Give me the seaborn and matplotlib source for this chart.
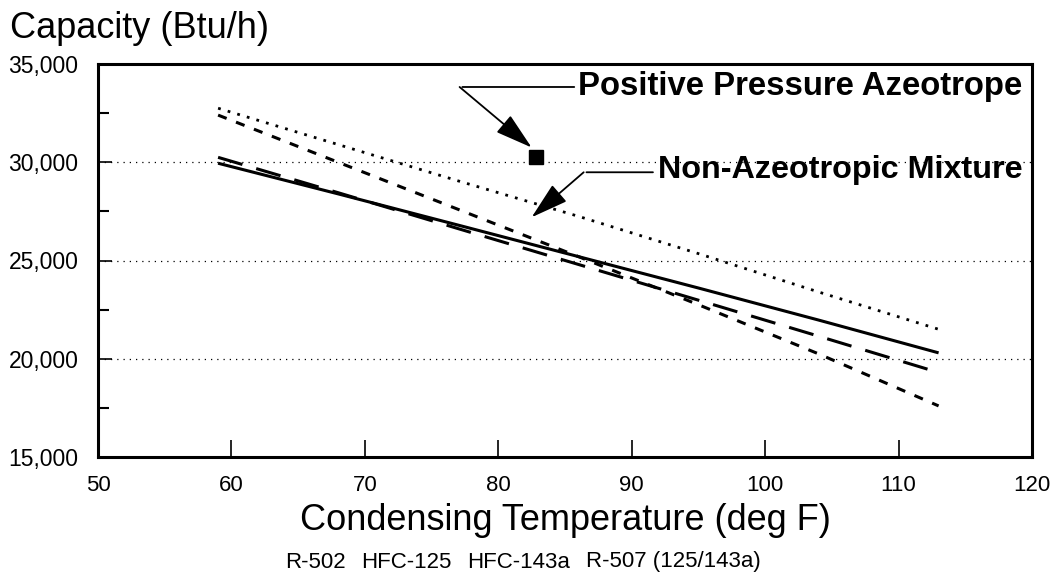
import pandas as pd
import matplotlib
matplotlib.use("Agg")
import matplotlib.pyplot as plt
import seaborn as sns
from matplotlib.lines import Line2D
from matplotlib.ticker import MultipleLocator, FuncFormatter

# Datos
temps = [59, 68, 77, 86, 95, 104, 113]
r502 = [29950, 28390, 26800, 25200, 23600, 21970, 20300]
hfc125 = [32400, 30000, 27600, 25200, 22750, 20250, 17600]
hfc143a = [32750, 30900, 29050, 27250, 25350, 23400, 21500]
r507 = [30250, 28450, 26620, 24800, 22980, 21150, 19300]
series_names = ["R-502", "HFC-125", "HFC-143a", "R-507 (125/143a)"]

azeo_point = (82.8, 30250)

df = pd.DataFrame({
    "temp": temps * 4,
    "capacity": r502 + hfc125 + hfc143a + r507,
    "refrigerant": sum([[n] * len(temps) for n in series_names], []),
})

sns.set_style("ticks")
plt.rcParams["font.family"] = ["Liberation Sans", "DejaVu Sans"]
plt.rcParams["text.color"] = "black"
plt.rcParams["xtick.color"] = "black"
plt.rcParams["ytick.color"] = "black"
plt.rcParams["axes.labelcolor"] = "black"

fig = plt.figure(figsize=(10.55, 5.87), dpi=100)
ax = fig.add_axes([98 / 1055, 1 - 457 / 587, (1032 - 98) / 1055, (457 - 64) / 587])

# estilos de linea (en unidades del grosor)
estilos = {
    "R-502": dict(lw=2.2, dashes=None),
    "HFC-125": dict(lw=2.2, dashes=(3, 3.3)),
    "HFC-143a": dict(lw=2.0, dashes=(1, 2.6)),
    "R-507 (125/143a)": dict(lw=2.2, dashes=(8.3, 4.7)),
}
for name in series_names:
    sub = df[df["refrigerant"] == name]
    sns.lineplot(data=sub, x="temp", y="capacity", ax=ax, color="black",
                 lw=estilos[name]["lw"], legend=False)
    line = ax.lines[-1]
    if estilos[name]["dashes"] is not None:
        line.set_dashes(estilos[name]["dashes"])
    line.set_solid_capstyle("butt")
    line.set_dash_capstyle("butt")

ax.plot([azeo_point[0]], [azeo_point[1]], marker="s", ms=10, color="black", ls="none")

ax.set_xlim(50, 120)
ax.set_ylim(15000, 35000)
ax.xaxis.set_major_locator(MultipleLocator(10))
ax.yaxis.set_major_locator(MultipleLocator(5000))
ax.yaxis.set_minor_locator(MultipleLocator(2500))
ax.yaxis.set_major_formatter(FuncFormatter(lambda v, p: f"{int(v):,}"))
ax.tick_params(axis="x", direction="in", length=12, width=1.2, labelsize=16, pad=13,
               labelcolor="black")
ax.tick_params(axis="y", which="major", direction="in", length=10, width=1.2, labelsize=16.5,
               pad=14, labelcolor="black")
ax.tick_params(axis="y", which="minor", direction="in", length=8, width=1.5)
ax.grid(axis="y", which="major", color="black", lw=0.9, linestyle=(0, (1, 4)))
for s in ax.spines.values():
    s.set_visible(True)
    s.set_linewidth(2.2)
    s.set_color("black")

ax.set_xlabel("")
ax.set_ylabel("")

# anotaciones
ax.text(86.0, 33830, "Positive Pressure Azeotrope", fontsize=23.7, fontweight="bold",
        va="center", ha="left", color="black")
ax.annotate("", xy=(85.9, 33830), xytext=(77.1, 33830),
            arrowprops=dict(arrowstyle="-", lw=1.3, color="black"))
ax.annotate("", xy=(82.5, 30750), xytext=(77.1, 33830),
            arrowprops=dict(arrowstyle="-|>,head_length=1.3,head_width=0.38",
                            mutation_scale=18, lw=1.3, color="black", shrinkA=0, shrinkB=0))

ax.text(92.0, 29590, "Non-Azeotropic Mixture", fontsize=23.3, fontweight="bold",
        va="center", ha="left", color="black")
ax.annotate("", xy=(91.8, 29490), xytext=(86.4, 29490),
            arrowprops=dict(arrowstyle="-", lw=1.3, color="black"))
ax.annotate("", xy=(82.5, 27200), xytext=(86.4, 29490),
            arrowprops=dict(arrowstyle="-|>,head_length=1.3,head_width=0.38",
                            mutation_scale=18, lw=1.3, color="black", shrinkA=0, shrinkB=0))

fig.text(10 / 1055, 1 - 38 / 587, "Capacity (Btu/h)", fontsize=26, va="baseline", ha="left")
fig.text(565 / 1055, 1 - 520 / 587, "Condensing Temperature (deg F)", fontsize=26,
         va="center", ha="center")

handles = [Line2D([], [], linestyle="none") for _ in series_names]
fig.legend(handles, series_names, ncol=4, handlelength=0, handletextpad=0,
           columnspacing=0.7, frameon=False, fontsize=16, loc="center",
           bbox_to_anchor=(523 / 1055, 1 - 562 / 587), borderpad=0, labelcolor="black")

fig.savefig("out.png", dpi=100)
